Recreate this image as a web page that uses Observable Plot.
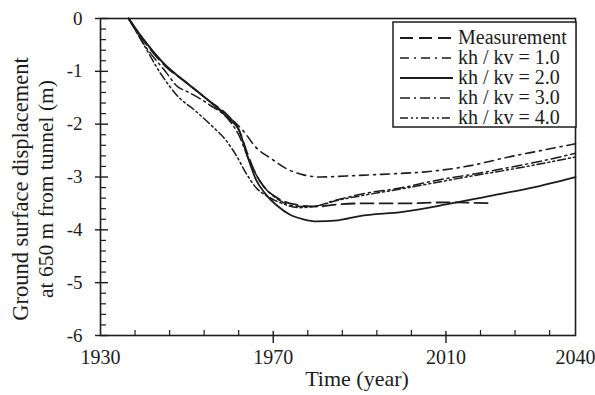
<!DOCTYPE html>
<html><head><meta charset="utf-8">
<script src="https://cdn.jsdelivr.net/npm/d3@7"></script>
<script src="https://cdn.jsdelivr.net/npm/@observablehq/plot@0.6"></script>
<style>
body{margin:0;background:#fff}
#chart{position:relative;width:595px;height:395px}
</style>
</head><body><div id="chart"></div>
<script>
// ---- data (year, displacement m) ----
const measurement = [[1936.5,0],[1940,-0.42],[1945,-0.9],[1950,-1.22],[1955,-1.55],[1960,-1.88],[1962,-2.1],[1964,-2.55],[1966,-2.95],[1968,-3.2],[1971,-3.4],[1975,-3.52],[1980,-3.56],[1985,-3.52],[1990,-3.5],[2000,-3.5],[2010,-3.48],[2021,-3.5]];
const khkv1 = [[1936.5,0],[1940,-0.4],[1945,-0.88],[1950,-1.22],[1955,-1.55],[1960,-1.88],[1963,-2.12],[1966,-2.44],[1969.5,-2.65],[1973,-2.84],[1977,-2.96],[1981,-3.0],[1987,-2.98],[1995,-2.95],[2008,-2.88],[2016,-2.78],[2024,-2.63],[2032,-2.5],[2040,-2.37]];
const khkv2 = [[1936.5,0],[1940,-0.4],[1945,-0.88],[1950,-1.22],[1955,-1.55],[1960,-1.92],[1962,-2.1],[1964,-2.6],[1966,-3.05],[1968,-3.3],[1971,-3.55],[1974,-3.72],[1977,-3.8],[1980,-3.84],[1985,-3.82],[1990,-3.74],[2000,-3.66],[2010,-3.52],[2020,-3.36],[2030,-3.2],[2040,-3.0]];
const khkv3 = [[1936.5,0],[1940,-0.48],[1945,-1.0],[1948,-1.3],[1950,-1.38],[1955,-1.62],[1960,-1.95],[1962,-2.2],[1964,-2.6],[1966,-2.95],[1968,-3.2],[1971,-3.42],[1975,-3.55],[1979,-3.56],[1984,-3.45],[1990,-3.33],[2000,-3.2],[2008,-3.06],[2016,-2.95],[2024,-2.83],[2032,-2.7],[2040,-2.55]];
const khkv4 = [[1936.5,0],[1939.5,-0.42],[1944,-1.05],[1948,-1.48],[1952,-1.75],[1956,-2.05],[1959,-2.3],[1961.5,-2.6],[1963.8,-2.94],[1966,-3.2],[1969,-3.38],[1972,-3.5],[1976,-3.58],[1980,-3.55],[1985,-3.44],[1990,-3.36],[2000,-3.22],[2008,-3.1],[2016,-2.98],[2024,-2.87],[2032,-2.75],[2040,-2.62]];
const seriesNames = ["Measurement","kh / kv = 1.0","kh / kv = 2.0","kh / kv = 3.0","kh / kv = 4.0"];
const xLabelTicks = [1930,1970,2010,2040];
const xMajorTicks = [1970,2010];
const xMinorTicks = [1938,1946,1954,1962,1978,1986,1994,2002,2018,2026,2034];
const yMajorTicks = [0,-1,-2,-3,-4,-5,-6];
const yMinorTicks = d3.range(-5.8,0,0.2).map(v=>+v.toFixed(1)).filter(v=>!Number.isInteger(v));

// ---- styles ----
const ink = "#1c1c1c";
const font = "'Liberation Serif','Times New Roman',serif";
const styles = [
  {dash:"13,6", w:1.8},
  {dash:"9,5,2,5", w:1.6},
  {dash:null, w:1.8},
  {dash:"10,4,2,4", w:1.5},
  {dash:"8,3,2,3,2,3", w:1.5}
];
const allData = [measurement,khkv1,khkv2,khkv3,khkv4];

const W=595,H=395, mL=100, mR=20, mT=18, mB=60;
const pw=W-mL-mR, ph=H-mT-mB;

const plot = Plot.plot({
  width:W, height:H, marginLeft:mL, marginRight:mR, marginTop:mT, marginBottom:mB,
  style:{fontFamily:font, background:"transparent", color:ink},
  x:{domain:[1930,2040]},
  y:{domain:[-6,0]},
  marks:[
    ...allData.map((d,i)=>Plot.line(d,{x:p=>p[0],y:p=>p[1],stroke:ink,strokeWidth:styles[i].w,strokeDasharray:styles[i].dash,curve:"monotone-x"})),
    Plot.ruleX(xMinorTicks,{x:d=>d,stroke:ink,strokeWidth:1.2,insetTop:ph-5}),
    Plot.ruleX(xMajorTicks,{x:d=>d,stroke:ink,strokeWidth:1.4,insetTop:ph-4,insetBottom:-8}),
    Plot.ruleY(yMinorTicks,{y:d=>d,stroke:ink,strokeWidth:1.2,insetRight:pw-6}),
    Plot.ruleY(yMajorTicks,{y:d=>d,stroke:ink,strokeWidth:1.4,insetRight:pw-8,insetLeft:-5}),
    Plot.axisX(xLabelTicks,{tickSize:0,tickPadding:14,fontSize:20,tickFormat:d=>String(d),label:null}),
    Plot.axisY(yMajorTicks,{tickSize:0,tickPadding:18,fontSize:19,tickFormat:d=>String(d),label:null}),
    Plot.frame({stroke:ink,strokeWidth:1.6})
  ]
});
document.getElementById("chart").appendChild(plot);

const svg = d3.select(plot);
// axis titles
svg.append("text").attr("x",357).attr("y",386).attr("text-anchor","middle")
  .attr("font-size",22).attr("font-family",font).attr("fill",ink).text("Time (year)");
const yl = svg.append("g").attr("transform","translate(0,189) rotate(-90)");
yl.append("text").attr("x",0).attr("y",28).attr("text-anchor","middle")
  .attr("font-size",22.5).attr("font-family",font).attr("fill",ink).text("Ground surface displacement");
yl.append("text").attr("x",0).attr("y",53).attr("text-anchor","middle")
  .attr("font-size",21.5).attr("font-family",font).attr("fill",ink).text("at 650 m from tunnel (m)");

// legend
const lg = svg.append("g");
lg.append("rect").attr("x",393).attr("y",22).attr("width",183).attr("height",105)
  .attr("fill","#fff").attr("stroke",ink).attr("stroke-width",1.5);
seriesNames.forEach((name,i)=>{
  const cy = 38 + i*20;
  lg.append("line").attr("x1",400).attr("x2",453).attr("y1",cy).attr("y2",cy)
    .attr("stroke",ink).attr("stroke-width",styles[i].w)
    .attr("stroke-dasharray",styles[i].dash);
  lg.append("text").attr("x",458).attr("y",cy+6).attr("font-size",20)
    .attr("text-anchor","start")
    .attr("font-family",font).attr("fill",ink).text(name);
});
</script></body></html>
